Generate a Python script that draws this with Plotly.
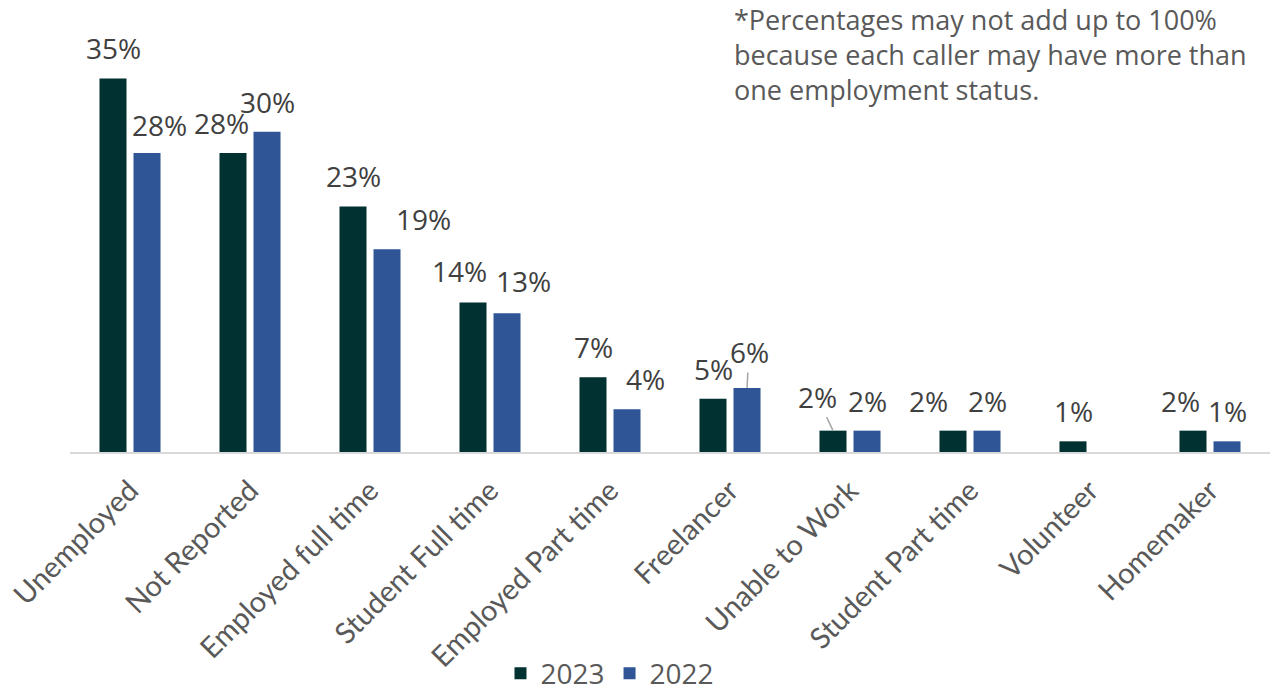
import plotly.graph_objects as go

categories = ["Unemployed", "Not Reported", "Employed full time", "Student Full time",
              "Employed Part time", "Freelancer", "Unable to Work", "Student Part time",
              "Volunteer", "Homemaker"]
values_2023 = [35, 28, 23, 14, 7, 5, 2, 2, 1, 2]
values_2022 = [28, 30, 19, 13, 4, 6, 2, 2, None, 1]

# Label placement: (x nudge px, extra lift px, draw leader line)
nudge_2023 = [(0, 0, False), (-12, 0, False), (0, 0, False), (-14, 2, False), (0, 0, False),
              (0, 0, False), (-16, 4, True), (-25, 0, False), (0, 0, False), (-13, 0, False)]
nudge_2022 = [(12, -2, False), (0, 0, False), (36, 0, False), (16, 2, False), (18, 0, False),
              (2, 6, True), (0, 0, False), (0, 0, False), (0, 0, False), (0, 0, False)]

BAR_OFFSET = 17   # px from category centre to each bar's centre
LABEL_LIFT = 30   # px from bar top to label centre
label_font = dict(family="Open Sans, Liberation Sans, sans-serif", size=28, color="#404040")

fig = go.Figure()
fig.add_trace(go.Bar(name="2023", x=categories, y=values_2023,
                     marker=dict(color="#013130", line=dict(width=0))))
fig.add_trace(go.Bar(name="2022", x=categories, y=values_2022,
                     marker=dict(color="#2F5597", line=dict(width=0))))

for vals, nudges, side in ((values_2023, nudge_2023, -1), (values_2022, nudge_2022, 1)):
    for cat, v, (dx, dy, leader) in zip(categories, vals, nudges):
        if v is None:
            continue
        if leader:
            fig.add_annotation(
                x=cat, y=v, xref="x", yref="y", xshift=side * BAR_OFFSET,
                text=f"{v}%", showarrow=True, arrowhead=0, arrowwidth=1.5,
                arrowcolor="#a6a6a6", ax=dx, ay=-(LABEL_LIFT + dy), axref="pixel",
                ayref="pixel", standoff=0, font=label_font,
            )
        else:
            fig.add_annotation(
                x=cat, y=v, xref="x", yref="y",
                xshift=side * BAR_OFFSET + dx, yshift=LABEL_LIFT + dy,
                yanchor="middle", text=f"{v}%", showarrow=False, font=label_font,
            )

fig.add_annotation(
    text="*Percentages may not add up to 100%<br>because each caller may have more than<br>one employment status.",
    xref="paper", yref="paper", x=0.552, y=1.06, xanchor="left", yanchor="top",
    align="left", showarrow=False,
    font=dict(family="Open Sans, sans-serif", size=27, color="#595959"),
)

fig.update_layout(
    width=1281, height=698,
    margin=dict(l=70, r=11, t=25, b=246),
    plot_bgcolor="white", paper_bgcolor="white",
    barmode="group", bargap=0.433, bargroupgap=0.206,
    showlegend=True,
    legend=dict(orientation="h", x=0.45, xanchor="center", yref="container",
                y=0.035, yanchor="middle",
                font=dict(family="Open Sans, sans-serif", size=28, color="#595959"),
                itemwidth=30, traceorder="normal"),
    xaxis=dict(tickangle=-45, showline=True, linecolor="#d9d9d9", linewidth=2,
               tickfont=dict(family="Lato, sans-serif", size=29, color="#595959"),
               ticks="", ticklabelstandoff=8, automargin=False),
    yaxis=dict(range=[0, 40], visible=False, showgrid=False, zeroline=False,
               automargin=False),
)

fig.write_html("out.html")
